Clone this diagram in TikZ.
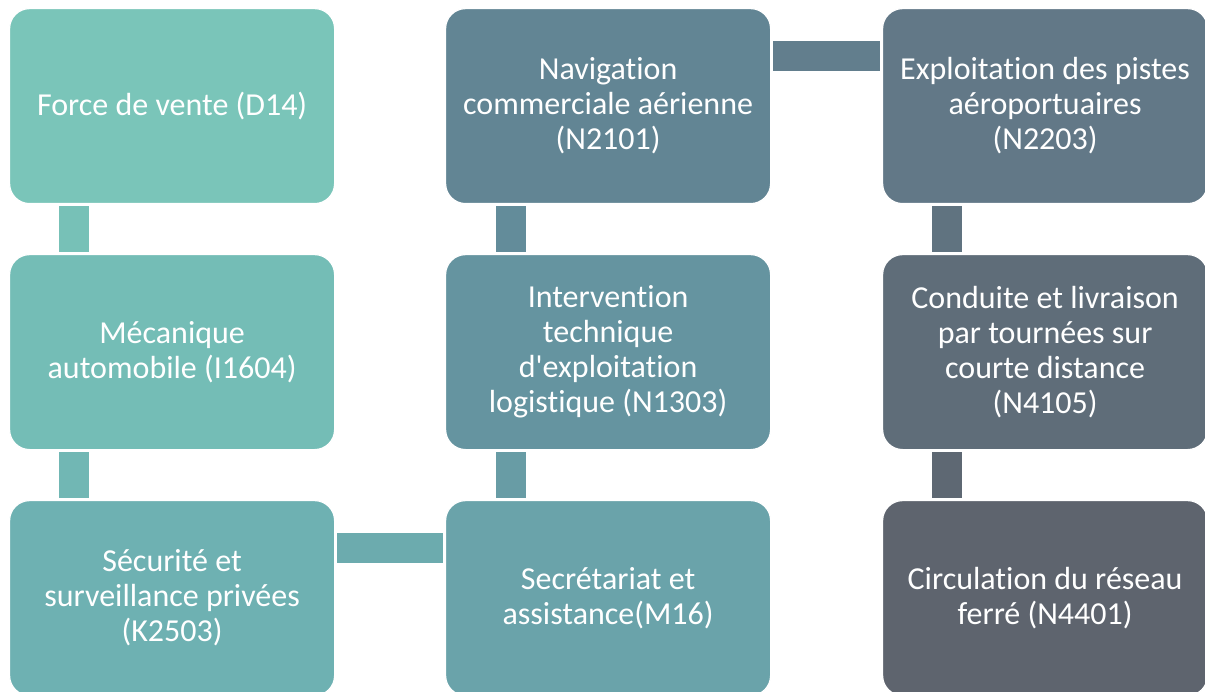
\documentclass[tikz,border=0pt]{standalone}
\usepackage{fontspec}
\setmainfont{Carlito}[Ligatures={NoCommon}]
\usetikzlibrary{calc}
\definecolor{cA}{HTML}{7AC5B9}
\definecolor{cB}{HTML}{74BDB6}
\definecolor{cC}{HTML}{6EB1B2}
\definecolor{cD}{HTML}{6AA3AA}
\definecolor{cE}{HTML}{6594A0}
\definecolor{cF}{HTML}{628594}
\definecolor{cG}{HTML}{627887}
\definecolor{cH}{HTML}{5F6D79}
\definecolor{cI}{HTML}{5E646E}
\definecolor{kAB}{HTML}{77C1B7}
\definecolor{kBC}{HTML}{71B7B4}
\definecolor{kCD}{HTML}{6CABAE}
\definecolor{kDE}{HTML}{689CA5}
\definecolor{kEF}{HTML}{638C9A}
\definecolor{kFG}{HTML}{627E8D}
\definecolor{kGH}{HTML}{607380}
\definecolor{kHI}{HTML}{5E6873}
\tikzset{
  box/.style={draw=white, line width=1.2pt, rounded corners=20pt, minimum width=325pt,
    minimum height=195pt, anchor=north west, inner sep=0pt, align=center,
    text=white, font=\fontsize{32}{35}\selectfont},
  link/.style={line width=30pt, line cap=butt, shorten <=2pt, shorten >=2pt}
}
\begin{document}
\begin{tikzpicture}[x=1pt,y=-1pt]
\useasboundingbox (0,0) rectangle (1205,692);
\clip (0,0) rectangle (1205,692);
\node[box, fill=cA] (n1) at (9,8) {Force de vente (D14)};
\node[box, fill=cB] (n2) at (9,254) {Mécanique\\automobile (I1604)};
\node[box, fill=cC] (n3) at (9,500) {Sécurité et\\surveillance privées\\(K2503)};
\node[box, fill=cD] (n4) at (445,500) {Secrétariat et\\assistance(M16)};
\node[box, fill=cE] (n5) at (445,254) {Intervention\\technique\\d\textquotesingle exploitation\\logistique (N1303)};
\node[box, fill=cF] (n6) at (445,8) {Navigation\\commerciale aérienne\\(N2101)};
\node[box, fill=cG] (n7) at (882,8) {Exploitation des pistes\\aéroportuaires\\(N2203)};
\node[box, fill=cH] (n8) at (882,254) {Conduite et livraison\\par tournées sur\\courte distance\\(N4105)};
\node[box, fill=cI] (n9) at (882,500) {Circulation du réseau\\ferré (N4401)};
\draw[link, kAB] ($(n1.south west)+(65,0)$) -- ($(n2.north west)+(65,0)$);
\draw[link, kBC] ($(n2.south west)+(65,0)$) -- ($(n3.north west)+(65,0)$);
\draw[link, kCD] ($(n3.north east)+(0,48)$) -- ($(n4.north west)+(0,48)$);
\draw[link, kDE] ($(n5.south west)+(66,0)$) -- ($(n4.north west)+(66,0)$);
\draw[link, kEF] ($(n6.south west)+(66,0)$) -- ($(n5.north west)+(66,0)$);
\draw[link, kFG] ($(n6.north east)+(0,48)$) -- ($(n7.north west)+(0,48)$);
\draw[link, kGH] ($(n7.south west)+(65,0)$) -- ($(n8.north west)+(65,0)$);
\draw[link, kHI] ($(n8.south west)+(65,0)$) -- ($(n9.north west)+(65,0)$);
\end{tikzpicture}
\end{document}
